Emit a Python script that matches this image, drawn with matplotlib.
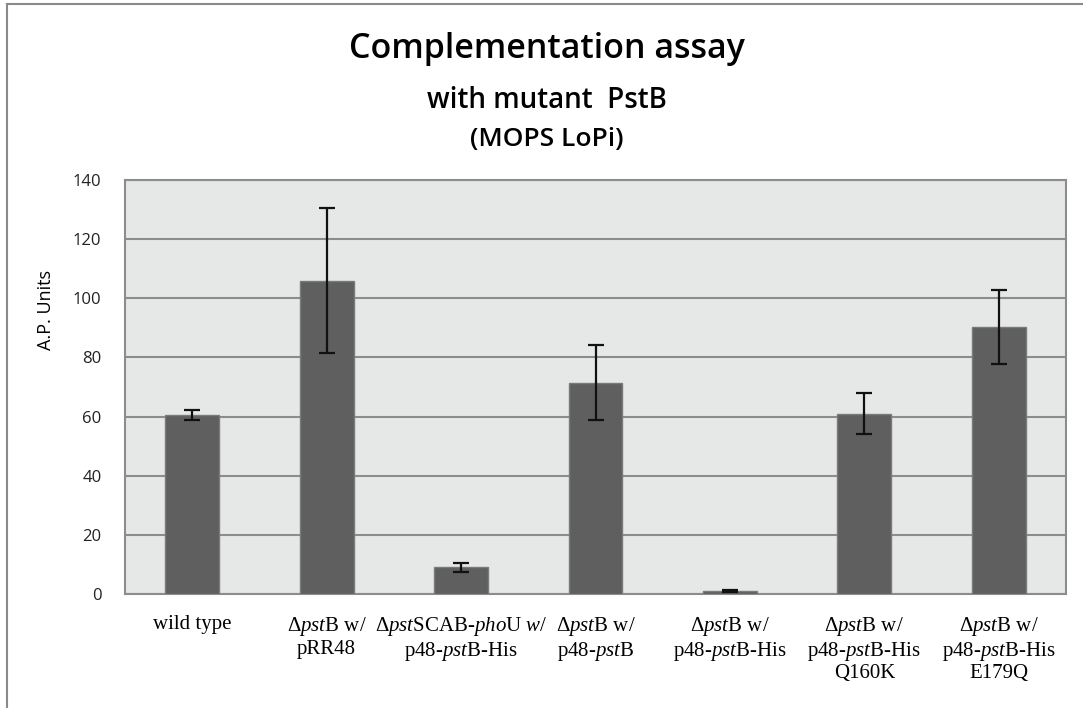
import matplotlib
matplotlib.use('Agg')
from matplotlib import pyplot as plt
from matplotlib.lines import Line2D

# data
strains = [
	'wild type',
	'Δ$\\mathit{pst}$B w/\npRR48',
	'Δ$\\mathit{pst}$SCAB-$\\mathit{pho}$U $\\mathit{w/}$\np48-$\\mathit{pst}$B-His',
	'Δ$\\mathit{pst}$B w/\np48-$\\mathit{pst}$B',
	'Δ$\\mathit{pst}$B w/\np48-$\\mathit{pst}$B-His',
	'Δ$\\mathit{pst}$B w/\np48-$\\mathit{pst}$B-His\nQ160K',
	'Δ$\\mathit{pst}$B w/\np48-$\\mathit{pst}$B-His\nE179Q',
]
ap_units = [60.5, 106.0, 9.0, 71.5, 1.1, 61.0, 90.3]
ap_err = [1.8, 24.5, 1.6, 12.7, 0.3, 7.0, 12.6]
y_ticks = [0, 20, 40, 60, 80, 100, 120, 140]

plt.rcParams['mathtext.fontset'] = 'custom'
plt.rcParams['mathtext.rm'] = 'Liberation Serif'
plt.rcParams['mathtext.it'] = 'Liberation Serif:italic'

fig = plt.figure(figsize=(10.83, 7.08), dpi=100)
ax = fig.add_axes([125 / 1083, 1 - 594 / 708, 941 / 1083, 414 / 708])

# outer chart frame (top and left only visible)
fig.add_artist(Line2D([7 / 1083, 7 / 1083], [0, 1 - 4 / 708], transform=fig.transFigure, color='#8a8a8a', lw=1.5))
fig.add_artist(Line2D([7 / 1083, 1], [1 - 4 / 708, 1 - 4 / 708], transform=fig.transFigure, color='#8a8a8a', lw=1.5))

ax.set_facecolor('#e6e7e7')
x = range(len(strains))
ax.bar(x, ap_units, width=0.4, color='#5f5f5f', edgecolor='#7a7a7a', linewidth=1, zorder=3)
ax.errorbar(x, ap_units, yerr=ap_err, fmt='none', ecolor='#111111', elinewidth=1.6, capsize=6, capthick=1.6, zorder=4)

ax.set_xlim(-0.5, len(strains) - 0.5)
ax.set_ylim(0, 140)
ax.set_yticks(y_ticks)
ax.yaxis.grid(True, color='#8c8c8c', linewidth=1.5, zorder=0)
ax.set_axisbelow(True)
for s in ax.spines.values():
	s.set_color('#8c8c8c')
	s.set_linewidth(1.5)

ax.tick_params(axis='y', length=0, pad=17, labelsize=12, labelcolor='#222222')
ax.tick_params(axis='x', length=0, pad=15)
ax.set_xticks(list(x))
ax.set_xticklabels(strains, fontsize=15, family='Liberation Serif', linespacing=1.12)
for lab in ax.get_yticklabels():
	lab.set_family('Open Sans')

fig.text(46 / 1083, 1 - 310 / 708, 'A.P. Units', rotation=90, ha='center', va='center', fontsize=13, family='Open Sans')

# title lines
fig.text(547 / 1083, 1 - 49 / 708, 'Complementation assay', ha='center', va='center', fontsize=24.5, family='Open Sans', weight='semibold')
fig.text(547 / 1083, 1 - 100 / 708, 'with mutant  PstB', ha='center', va='center', fontsize=20, family='Open Sans', weight='semibold')
fig.text(547 / 1083, 1 - 139 / 708, '(MOPS LoPi)', ha='center', va='center', fontsize=19, family='Open Sans', weight='semibold')

fig.savefig('out.png', dpi=100)
